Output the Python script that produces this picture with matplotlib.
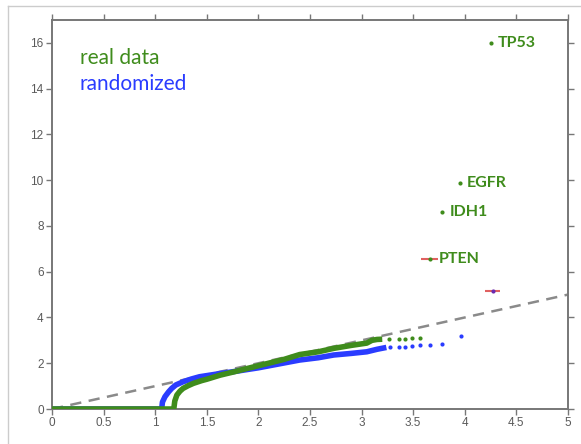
import numpy as np
import matplotlib as mpl
from matplotlib import pyplot as plt
from matplotlib.lines import Line2D

mpl.rcParams.update({
    'font.family': ['Lato', 'DejaVu Sans'],
    'axes.linewidth': 1.4,
})

GREEN = '#3f8c1c'
BLUE = '#2a3cff'

# real data: dense part of the QQ curve, then sparse tail
green_x = [0, 1.18, 1.19, 1.21, 1.24, 1.27, 1.32, 1.37, 1.45, 1.50, 1.63, 1.76, 1.90,
           2.08, 2.25, 2.40, 2.58, 2.73, 2.90, 3.05, 3.10, 3.15, 3.20]
green_y = [0, 0, 0.35, 0.61, 0.78, 0.90, 1.02, 1.12, 1.24, 1.30, 1.48, 1.62, 1.78,
           1.98, 2.17, 2.38, 2.50, 2.65, 2.78, 2.88, 3.00, 3.04, 3.05]
green_tail_x = [3.27, 3.36, 3.42, 3.49, 3.57]
green_tail_y = [3.04, 3.07, 3.08, 3.10, 3.12]

# randomized
blue_x = [0, 1.063, 1.07, 1.095, 1.13, 1.16, 1.20, 1.27, 1.35, 1.43, 1.63, 1.80, 2.00,
          2.20, 2.40, 2.58, 2.73, 2.90, 3.05, 3.15, 3.24]
blue_y = [0, 0, 0.30, 0.54, 0.75, 0.90, 1.05, 1.19, 1.31, 1.41, 1.55, 1.66, 1.80,
          1.97, 2.14, 2.24, 2.36, 2.43, 2.50, 2.61, 2.69]
blue_tail_x = [3.28, 3.36, 3.42, 3.49, 3.57, 3.66, 3.78, 3.96]
blue_tail_y = [2.72, 2.72, 2.72, 2.76, 2.79, 2.79, 2.84, 3.19]

# named genes
genes = ['TP53', 'EGFR', 'IDH1', 'PTEN']
gene_x = [4.25, 3.95, 3.78, 3.66]
gene_y = [16.0, 9.87, 8.62, 6.56]
pten_xerr = [0.08]
rand_top_x = [4.27]
rand_top_y = [5.17]
rand_top_xerr = [0.07]

fig = plt.figure(figsize=(5.81, 4.44), dpi=100)
ax = fig.add_axes([52/581, 35/444, 516/581, 389/444])

ax.plot([0, 5], [0, 5], color='#8a8a8a', lw=1.8, ls=(0, (4.5, 3)), zorder=1)

ax.plot(blue_x, blue_y, color=BLUE, lw=4, solid_capstyle='butt', zorder=2)
ax.plot(blue_tail_x, blue_tail_y, 'o', color=BLUE, ms=3, mew=0, zorder=2)
ax.plot(green_x, green_y, color=GREEN, lw=4, solid_capstyle='butt', zorder=3)
ax.plot(green_tail_x, green_tail_y, 'o', color=GREEN, ms=3, mew=0, zorder=3)

ax.errorbar(gene_x[3:], gene_y[3:], xerr=pten_xerr, fmt='none', ecolor='#e06060', elinewidth=1.5, zorder=3)
ax.errorbar(rand_top_x, rand_top_y, xerr=rand_top_xerr, fmt='none', ecolor='#e06060', elinewidth=1.5, zorder=3)
ax.plot(rand_top_x, rand_top_y, 'o', color='#6a2ab0', ms=3, mew=0, zorder=4)
ax.plot(gene_x, gene_y, 'o', color=GREEN, ms=3, mew=0, zorder=4)

for g, x, y in zip(genes, gene_x, gene_y):
    dx = 0.09 if g == 'PTEN' else 0.07
    ax.text(x + dx, y, g, color=GREEN, fontsize=11.5, fontweight='bold', va='center', ha='left')

ax.text(0.27, 15.35, 'real data', color=GREEN, fontsize=15, va='center')
ax.text(0.27, 14.2, 'randomized', color=BLUE, fontsize=15, va='center')

ax.set_xlim(0, 5)
ax.set_ylim(0, 17)
ax.set_xticks(np.arange(0, 5.01, 0.5))
ax.set_xticklabels(['0', '0.5', '1', '1.5', '2', '2.5', '3', '3.5', '4', '4.5', '5'])
ax.set_yticks(range(0, 17, 2))
ax.tick_params(direction='out', length=4, width=1, color='#777777', labelcolor='#5a5a5a',
               labelsize=8.5, top=True, right=True, pad=2)
for lab in ax.get_xticklabels() + ax.get_yticklabels():
    lab.set_family(['Liberation Sans', 'DejaVu Sans'])
for s in ax.spines.values():
    s.set_color('#777777')

# light frame round the picture
fig.add_artist(Line2D([8/581, 8/581], [0, 1 - 6/444], color='#cccccc', lw=1))
fig.add_artist(Line2D([8/581, 1], [1 - 6/444, 1 - 6/444], color='#cccccc', lw=1))

fig.savefig('out.png', dpi=100)
